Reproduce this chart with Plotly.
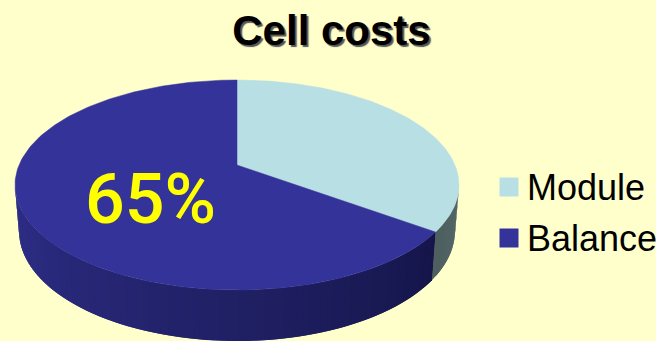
import numpy as np
import plotly.graph_objects as go

title = "Cell costs"
categories = ["Module", "Balance"]
values = [35, 65]
top_colors = ["#B8DFE3", "#333399"]
label_text = "65%"

W, H = 656, 341
CX, CY, RX, RY = 237, 185, 222, 105      # top face outline
CX2, CY2, RX2, RY2 = 237, 231, 218, 110  # lower rim outline
TILT = 0.19                              # perspective: pie centre sits above outline centre


def project(frac):
    """Position on the top face's rim for a fraction of the pie, clockwise from 12 o'clock."""
    a = 2 * np.pi * np.asarray(frac, dtype=float)
    u, v = np.sin(a), np.cos(a)
    d = 1 + TILT * v
    return u * np.sqrt(1 - TILT ** 2) / d, (v + TILT) / d


def lerp_hex(c1, c2, t):
    a = [int(c1[i:i + 2], 16) for i in (1, 3, 5)]
    b = [int(c2[i:i + 2], 16) for i in (1, 3, 5)]
    return "rgb(" + ",".join(str(round(p + (q - p) * t)) for p, q in zip(a, b)) + ")"


fig = go.Figure()


def poly(xs, ys, color, width=0.0):
    fig.add_trace(go.Scatter(x=xs, y=ys, mode="lines", fill="toself", fillcolor=color,
                             line=dict(color=color, width=width), showlegend=False,
                             hoverinfo="skip"))


share = values[0] / sum(values)
u_c, v_c = project(share)
theta_corner = float(np.arctan2(-v_c, u_c))  # screen rim angle where the slices meet at the front


def wall(t_start, t_end, n, c_start, c_end):
    """Side wall as overlapping thin strips, so no seams show between them."""
    edges = np.linspace(t_start, t_end, n + 1)
    for i in range(n):
        ts = np.linspace(edges[max(i - 1, 0)], edges[i + 1], 8)
        xt, yt = CX + RX * np.cos(ts), CY + RY * np.sin(ts)
        xb, yb = CX2 + RX2 * np.cos(ts), CY2 + RY2 * np.sin(ts)
        poly(list(xt) + list(xb[::-1]), list(yt) + list(yb[::-1]),
             lerp_hex(c_start, c_end, (i + 0.5) / n))


wall(0.0, theta_corner, 12, "#56686A", "#4D5F5F")
wall(theta_corner, np.pi, 90, "#15154A", "#2E2E88")

# Top face slices
start = 0.0
for v, col in zip(values, top_colors):
    f = np.linspace(start, start + v / sum(values), 200)
    start += v / sum(values)
    u, w = project(f)
    xs = [CX] + list(CX + RX * u) + [CX]
    ys = [CY - RY * TILT] + list(CY - RY * w) + [CY - RY * TILT]
    poly(xs, ys, col, width=0.5)

# Legend keys
fig.add_trace(go.Scatter(x=[509, 509], y=[187, 238], mode="markers", showlegend=False,
                         hoverinfo="skip",
                         marker=dict(symbol="square", size=19, color=top_colors,
                                     line=dict(width=0))))

ann = [
    dict(x=525, y=187, text=categories[0], xanchor="left", yanchor="middle", showarrow=False,
         font=dict(family="Liberation Sans", size=36, color="#000000")),
    dict(x=525, y=238, text=categories[1], xanchor="left", yanchor="middle", showarrow=False,
         font=dict(family="Liberation Sans", size=36, color="#000000")),
    dict(x=150, y=199, text=label_text, xanchor="center", yanchor="middle", showarrow=False,
         font=dict(family="Roboto", size=70, color="#FFFF00", weight=500)),
]

fig.update_layout(
    width=W, height=H, margin=dict(l=0, r=0, t=0, b=0), autosize=False,
    paper_bgcolor="#FFFFCC", plot_bgcolor="#FFFFCC", showlegend=False,
    title=dict(text=title, x=331.5 / W, xanchor="center", y=1 - 30 / H, yanchor="middle",
               font=dict(family="Liberation Sans", size=42, color="#000000", weight="bold",
                         shadow="2px 2px 1px #555555")),
    xaxis=dict(range=[0, W], visible=False, fixedrange=True),
    yaxis=dict(range=[H, 0], visible=False, fixedrange=True),
    annotations=ann,
)
fig.write_html("out.html", config=dict(displayModeBar=False),
               post_script="document.body.style.margin='0';document.body.style.background='#FFFFCC';")
